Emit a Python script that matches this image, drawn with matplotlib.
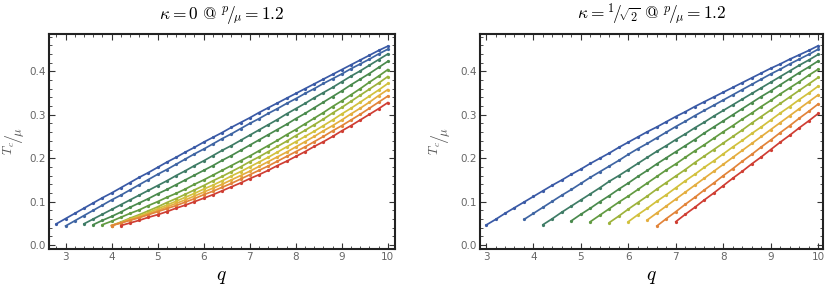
import numpy as np
import matplotlib
matplotlib.use("Agg")
import matplotlib.pyplot as plt
from matplotlib.ticker import MultipleLocator

plt.rcParams['mathtext.fontset'] = 'cm'

# kappa = 0, start q of each curve and Tc/mu sampled every 0.2 in q
left_q0 = [2.8, 3.0, 3.4, 3.6, 3.8, 4.0, 4.0, 4.0, 4.0, 4.2]
left_tc = [
    [0.049, 0.061, 0.073, 0.085, 0.097, 0.109, 0.120, 0.132, 0.144, 0.156, 0.167, 0.179, 0.191, 0.202, 0.214, 0.225,
     0.237, 0.248, 0.259, 0.271, 0.282, 0.293, 0.305, 0.316, 0.327, 0.338, 0.349, 0.360, 0.371, 0.382, 0.393, 0.404,
     0.415, 0.426, 0.437, 0.448, 0.458],
    [0.044, 0.056, 0.068, 0.080, 0.092, 0.104, 0.115, 0.127, 0.139, 0.151, 0.163, 0.174, 0.186, 0.198, 0.210, 0.221,
     0.233, 0.245, 0.256, 0.268, 0.280, 0.291, 0.303, 0.314, 0.326, 0.337, 0.349, 0.360, 0.372, 0.383, 0.394, 0.406,
     0.417, 0.428, 0.440, 0.451],
    [0.049, 0.060, 0.071, 0.082, 0.093, 0.104, 0.115, 0.126, 0.137, 0.148, 0.160, 0.171, 0.183, 0.194, 0.206, 0.218,
     0.229, 0.241, 0.253, 0.265, 0.277, 0.289, 0.302, 0.314, 0.326, 0.339, 0.351, 0.363, 0.376, 0.389, 0.401, 0.414,
     0.427, 0.440],
    [0.047, 0.057, 0.066, 0.076, 0.087, 0.097, 0.107, 0.118, 0.128, 0.139, 0.150, 0.161, 0.172, 0.183, 0.195, 0.206,
     0.218, 0.230, 0.242, 0.254, 0.266, 0.278, 0.291, 0.303, 0.316, 0.329, 0.342, 0.355, 0.369, 0.382, 0.395, 0.409,
     0.423],
    [0.047, 0.055, 0.064, 0.073, 0.081, 0.091, 0.100, 0.110, 0.119, 0.129, 0.140, 0.150, 0.161, 0.172, 0.183, 0.194,
     0.205, 0.217, 0.229, 0.241, 0.254, 0.266, 0.279, 0.292, 0.305, 0.319, 0.332, 0.346, 0.360, 0.375, 0.389, 0.404],
    [0.045, 0.053, 0.062, 0.070, 0.079, 0.088, 0.098, 0.107, 0.117, 0.127, 0.137, 0.148, 0.158, 0.169, 0.180, 0.192,
     0.203, 0.215, 0.227, 0.239, 0.252, 0.264, 0.277, 0.290, 0.304, 0.317, 0.331, 0.345, 0.359, 0.373, 0.388],
    [0.045, 0.052, 0.060, 0.067, 0.075, 0.084, 0.092, 0.101, 0.110, 0.119, 0.129, 0.138, 0.148, 0.159, 0.169, 0.180,
     0.191, 0.202, 0.214, 0.226, 0.238, 0.250, 0.262, 0.275, 0.288, 0.302, 0.315, 0.329, 0.343, 0.357, 0.372],
    [0.045, 0.051, 0.058, 0.065, 0.072, 0.080, 0.088, 0.096, 0.104, 0.113, 0.122, 0.131, 0.140, 0.150, 0.160, 0.170,
     0.181, 0.192, 0.203, 0.214, 0.226, 0.238, 0.250, 0.263, 0.275, 0.288, 0.302, 0.315, 0.329, 0.344, 0.358],
    [0.045, 0.051, 0.057, 0.063, 0.070, 0.077, 0.084, 0.091, 0.099, 0.107, 0.116, 0.124, 0.133, 0.142, 0.152, 0.162,
     0.172, 0.182, 0.193, 0.204, 0.215, 0.226, 0.238, 0.250, 0.263, 0.275, 0.288, 0.301, 0.315, 0.329, 0.343],
    [0.045, 0.051, 0.057, 0.064, 0.070, 0.077, 0.085, 0.092, 0.100, 0.108, 0.116, 0.125, 0.134, 0.143, 0.153, 0.162,
     0.172, 0.183, 0.193, 0.204, 0.215, 0.227, 0.238, 0.250, 0.263, 0.275, 0.288, 0.301, 0.314, 0.328],
]

# kappa = 1/sqrt(2)
right_q0 = [3.0, 3.8, 4.2, 4.8, 5.2, 5.6, 6.0, 6.4, 6.6, 7.0]
right_tc = [
    [0.046, 0.059, 0.073, 0.086, 0.099, 0.112, 0.125, 0.138, 0.150, 0.163, 0.175, 0.188, 0.200, 0.212, 0.225, 0.237,
     0.249, 0.261, 0.272, 0.284, 0.296, 0.307, 0.319, 0.330, 0.341, 0.352, 0.363, 0.374, 0.385, 0.396, 0.407, 0.417,
     0.428, 0.438, 0.448, 0.459],
    [0.059, 0.073, 0.087, 0.101, 0.115, 0.128, 0.142, 0.156, 0.169, 0.182, 0.195, 0.209, 0.222, 0.234, 0.247, 0.260,
     0.273, 0.285, 0.298, 0.310, 0.322, 0.334, 0.346, 0.358, 0.370, 0.382, 0.394, 0.405, 0.417, 0.428, 0.439, 0.451],
    [0.047, 0.061, 0.076, 0.090, 0.104, 0.118, 0.132, 0.147, 0.160, 0.174, 0.188, 0.202, 0.216, 0.229, 0.243, 0.256,
     0.270, 0.283, 0.297, 0.310, 0.323, 0.336, 0.349, 0.362, 0.375, 0.388, 0.401, 0.414, 0.426, 0.439],
    [0.056, 0.071, 0.085, 0.100, 0.114, 0.129, 0.143, 0.158, 0.172, 0.187, 0.201, 0.215, 0.229, 0.243, 0.258, 0.272,
     0.286, 0.300, 0.314, 0.328, 0.342, 0.355, 0.369, 0.383, 0.397, 0.410, 0.424],
    [0.054, 0.069, 0.084, 0.099, 0.113, 0.128, 0.143, 0.158, 0.173, 0.187, 0.202, 0.217, 0.231, 0.246, 0.261, 0.275,
     0.290, 0.304, 0.319, 0.333, 0.348, 0.362, 0.376, 0.391, 0.405],
    [0.052, 0.067, 0.083, 0.098, 0.113, 0.129, 0.144, 0.159, 0.174, 0.190, 0.205, 0.220, 0.235, 0.250, 0.265, 0.281,
     0.296, 0.311, 0.326, 0.341, 0.356, 0.371, 0.386],
    [0.054, 0.070, 0.085, 0.101, 0.116, 0.132, 0.148, 0.163, 0.179, 0.194, 0.210, 0.226, 0.241, 0.257, 0.272, 0.288,
     0.304, 0.319, 0.335, 0.350, 0.366],
    [0.058, 0.074, 0.090, 0.106, 0.122, 0.138, 0.154, 0.170, 0.186, 0.202, 0.218, 0.234, 0.250, 0.266, 0.282, 0.298,
     0.314, 0.330, 0.346],
    [0.044, 0.061, 0.077, 0.094, 0.110, 0.127, 0.143, 0.160, 0.176, 0.193, 0.209, 0.226, 0.242, 0.259, 0.275, 0.292,
     0.308, 0.325],
    [0.054, 0.071, 0.087, 0.104, 0.120, 0.137, 0.154, 0.170, 0.187, 0.203, 0.220, 0.237, 0.253, 0.270, 0.286, 0.303],
]

colors = ['#3a5aa6', '#3f65a3', '#3f7c66', '#4a8a4d', '#629b42',
          '#9db33c', '#d2c13e', '#e4ae3f', '#e2843a', '#cf3e33']

titles = [r'$\kappa = 0\ \mathrm{@}\ {}^{p}\!/\!_{\mu} = 1.2$',
          r'$\kappa = {}^{1}\!/\!_{\sqrt{2}}\ \mathrm{@}\ {}^{p}\!/\!_{\mu} = 1.2$']
ylab = r'${}^{T_c}\!/\!_{\mu}$'

fig = plt.figure(figsize=(8.31, 2.97), dpi=100)
ax1 = fig.add_axes([0.059, 0.1616, 0.416, 0.724])
ax2 = fig.add_axes([0.578, 0.1616, 0.4124, 0.724])

for ax, q0s, tcs, title, xl, lx in [(ax1, left_q0, left_tc, titles[0], (2.64, 10.15), 15),
                                    (ax2, right_q0, right_tc, titles[1], (2.88, 10.1), 441)]:
    for q0, tc, c in zip(q0s, tcs, colors):
        q = np.round(q0 + 0.2 * np.arange(len(tc)), 1)
        ax.plot(q, tc, color=c, lw=1.25, marker='o', ms=1.3, mec=c, mfc=c)
    ax.set_xlim(*xl)
    ax.set_ylim(-0.009, 0.486)
    ax.xaxis.set_major_locator(MultipleLocator(1))
    ax.xaxis.set_minor_locator(MultipleLocator(0.2))
    ax.yaxis.set_major_locator(MultipleLocator(0.1))
    ax.yaxis.set_minor_locator(MultipleLocator(0.02))
    ax.yaxis.set_major_formatter(plt.FuncFormatter(lambda v, p: f'{v:.1f}'))
    ax.tick_params(which='both', direction='in', top=True, right=True, colors='#333333',
                   labelcolor='#666666', labelsize=7.5, pad=2.5)
    ax.tick_params(which='major', length=4, width=0.8)
    ax.tick_params(which='minor', length=2, width=0.6)
    for s in ax.spines.values():
        s.set_linewidth(1.5)
        s.set_color('#222222')
    ax.set_title(title, fontsize=12.5, pad=11)
    ax.set_xlabel(r'$q$', fontsize=14, labelpad=3)
    # y label placed by hand so it stays inside the figure
    fig.text(lx / 831, 1 - 141.5 / 297, ylab, fontsize=13, color='#555555',
             rotation=90, ha='center', va='center')

fig.savefig('out.png', dpi=100)
